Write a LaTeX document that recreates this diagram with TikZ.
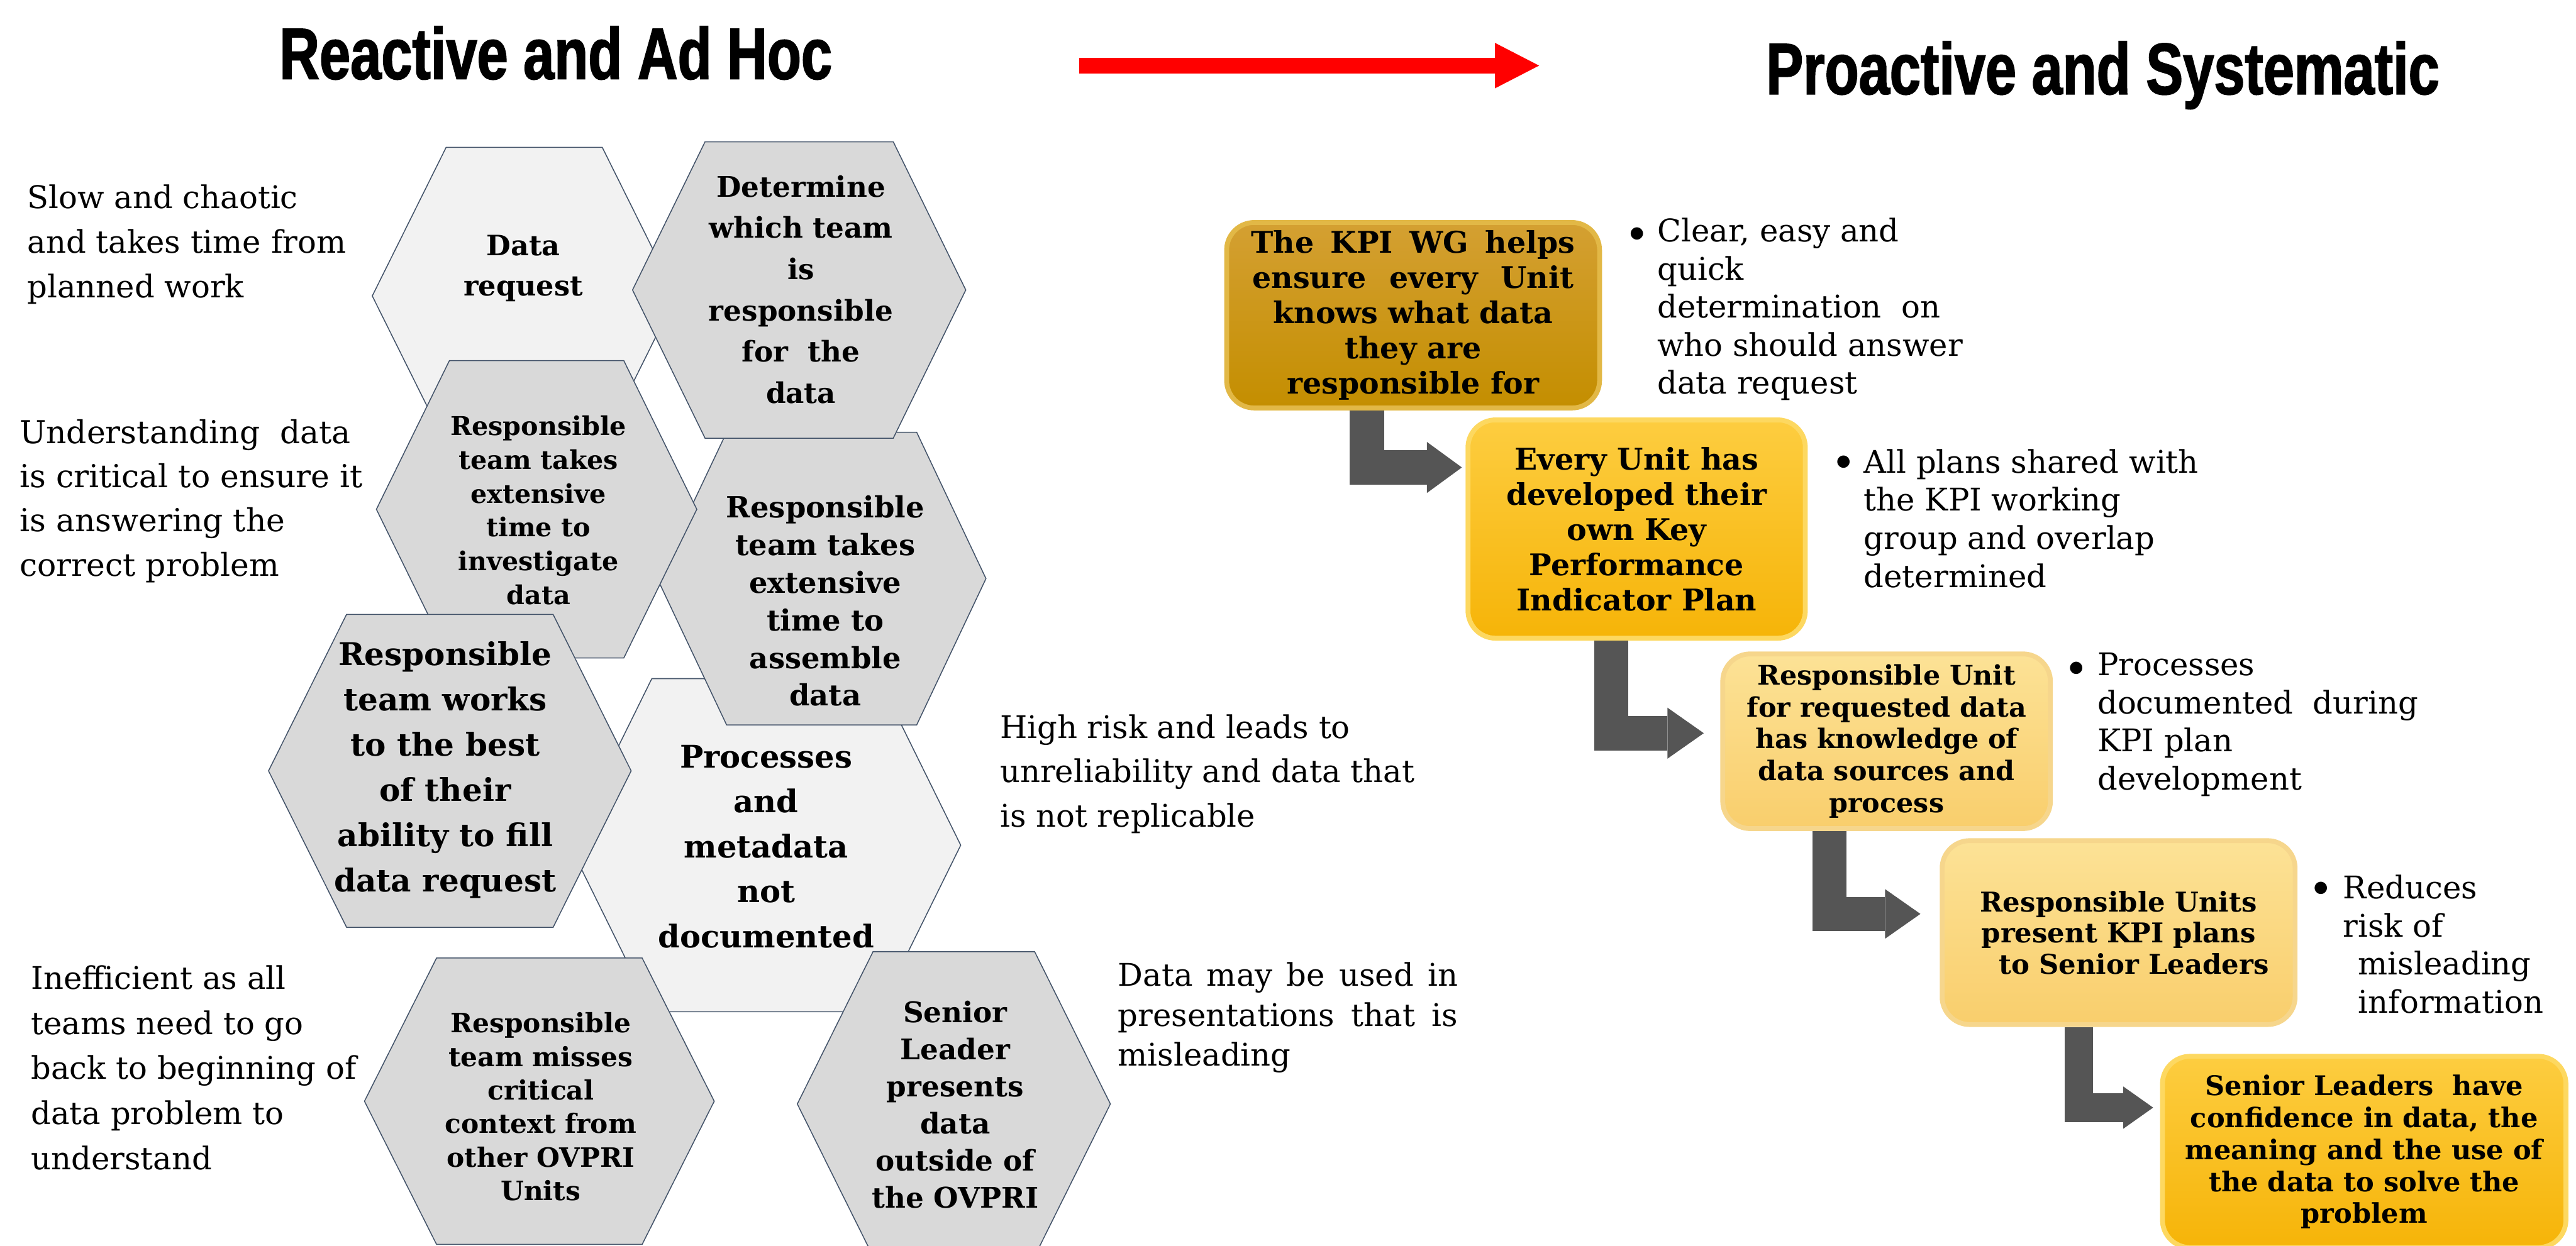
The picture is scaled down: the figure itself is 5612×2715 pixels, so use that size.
\documentclass[tikz,border=0pt]{standalone}
\usepackage{fontspec}
\setmainfont{DejaVu Serif}
\newfontfamily\titlefont[FakeStretch=0.765, FakeBold=1.6]{Liberation Sans}
\newfontfamily\symfont{DejaVu Sans}
\usetikzlibrary{arrows.meta,calc}

% font size and line spacing in pt
\newcommand\fsz[2]{\fontsize{#1pt}{#2pt}\selectfont}
% flat-topped hexagon: centre x, centre y, half width, half top edge, half height, style
\newcommand\hexshape[6]{%
  \filldraw[#6] ({#1-#3},#2) -- ({#1-#4},{#2-#5}) -- ({#1+#4},{#2-#5}) --
    ({#1+#3},#2) -- ({#1+#4},{#2+#5}) -- ({#1-#4},{#2+#5}) -- cycle;}
% list bullet
\newcommand\dotmark{\raisebox{0.07cm}{\symfont\fsz{10}{12}●}}

\definecolor{hexdark}{RGB}{217,217,217}
\definecolor{hexlight}{RGB}{242,242,242}
\definecolor{hexline}{RGB}{68,84,106}
\definecolor{arrowgrey}{RGB}{85,85,85}
\definecolor{goldA}{RGB}{212,160,50}
\definecolor{goldAb}{RGB}{196,142,0}
\definecolor{goldArim}{RGB}{226,184,70}
\definecolor{goldB}{RGB}{253,205,64}
\definecolor{goldBb}{RGB}{246,180,8}
\definecolor{goldBrim}{RGB}{253,216,96}
\definecolor{goldC}{RGB}{252,226,150}
\definecolor{goldCb}{RGB}{249,206,108}
\definecolor{goldCrim}{RGB}{246,214,140}

\tikzset{
  hexd/.style={fill=hexdark, draw=hexline, line width=0.6pt},
  hexl/.style={fill=hexlight, draw=hexline, line width=0.6pt},
  hextext/.style={align=center, inner sep=0pt},
  sidetext/.style={align=left, inner sep=0pt, anchor=west},
  bulletmark/.style={inner sep=0pt, anchor=base west},
  kpibox/.style={rounded corners=0.6cm, line width=3pt, align=center, inner sep=0pt},
  elbow/.style={draw=arrowgrey, line join=miter, line cap=butt},
  titletext/.style={anchor=base west, inner sep=0pt, font=\titlefont\bfseries\fsz{45}{50}}
}

\begin{document}
\begin{tikzpicture}[x=0.01cm, y=-0.01cm]
\useasboundingbox (0,0) rectangle (5612,2715);
\fill[white] (0,0) rectangle (5612,2715);

% ---------- headings ----------
\node[titletext] (t1) at (608,172) {Reactive and Ad Hoc};
\node[titletext] (t2) at (3847,205) {Proactive and Systematic};
\coordinate (rs) at (2351,143);
\coordinate (re) at (3353,143);
\draw[draw=red, line width=0.35cm,
  -{Triangle[length=0.96cm, width=0.99cm, line width=0pt]}] (rs) -- (re);

% ---------- honeycomb of the reactive process ----------
\hexshape{1142}{645}{331}{170}{324}{hexl}
\hexshape{1667}{1842}{426}{247}{363}{hexl}
\hexshape{1790}{1261}{358}{207}{319}{hexd}
\hexshape{1741}{632}{363}{205}{323}{hexd}
\hexshape{1169}{1110}{349}{190}{324}{hexd}
\hexshape{980}{1680}{395}{225}{341}{hexd}
\hexshape{1175}{2400}{381}{224}{312}{hexd}
\hexshape{2078}{2406}{341}{176}{332}{hexd}

\node[hextext, font=\bfseries\fsz{17.36}{25.0}] (h1) at (1140,585) {Data\\request};
\node[hextext, font=\bfseries\fsz{17.64}{25.6}] (h2) at (1745,631)
  {Determine\\which team\\is\\responsible\\for~~the\\data};
\node[hextext, font=\bfseries\fsz{16.08}{20.9}] (h3) at (1173,1112)
  {Responsible\\team takes\\extensive\\time to\\investigate\\data};
\node[hextext, font=\bfseries\fsz{18.1}{23.3}] (h4) at (1798,1310)
  {Responsible\\team takes\\extensive\\time to\\assemble\\data};
\node[hextext, font=\bfseries\fsz{19.5}{28.0}] (h5) at (970,1678)
  {Responsible\\team works\\to the best\\of their\\ability to fill\\data request};
\node[hextext, font=\bfseries\fsz{19.35}{27.9}] (h6) at (1669,1845)
  {Processes\\and\\metadata\\not\\documented};
\node[hextext, font=\bfseries\fsz{16.5}{20.8}] (h7) at (1178,2412)
  {Responsible\\team misses\\critical\\context from\\other OVPRI\\Units};
\node[hextext, font=\bfseries\fsz{17.64}{23.0}] (h8) at (2081,2407)
  {Senior\\Leader\\presents\\data\\outside of\\the OVPRI};

% ---------- remarks on the reactive process ----------
\node[sidetext, font=\fsz{19.35}{27.6}] (l1) at (59,533)
  {Slow and chaotic\\and takes time from\\planned work};
\node[sidetext, font=\fsz{19.6}{27.3}] (l2) at (42,1092)
  {Understanding~~data\\is critical to ensure it\\is answering the\\correct problem};
\node[sidetext, font=\fsz{19.35}{27.9}] (l3) at (67,2327)
  {Inefficient as all\\teams need to go\\back to beginning of\\data problem to\\understand};
\node[sidetext, font=\fsz{19.35}{27.6}] (m1) at (2178,1687)
  {High risk and leads to\\unreliability and data that\\is not replicable};
\node[sidetext, font=\fsz{19.35}{24.75}] (m2) at (2435,2218)
  {\makebox[7.4cm][s]{Data may be used in}\\\makebox[7.4cm][s]{presentations that is}\\misleading};

% ---------- systematic process steps ----------
\node[kpibox, draw=goldArim, top color=goldA, bottom color=goldAb,
  minimum width=8.12cm, minimum height=4.04cm, font=\bfseries\fsz{18.5}{21.9}]
  (b1) at (3078.5,687)
  {\makebox[7.05cm][s]{The KPI WG helps}\\\makebox[7.0cm][s]{ensure every Unit}\\knows what data\\they are\\responsible for};
\node[kpibox, draw=goldBrim, top color=goldB, bottom color=goldBb,
  minimum width=7.345cm, minimum height=4.755cm, font=\bfseries\fsz{18.5}{21.8}]
  (b2) at (3565.5,1153)
  {Every Unit has\\developed their\\own Key\\Performance\\Indicator Plan};
\node[kpibox, draw=goldCrim, top color=goldC, bottom color=goldCb,
  minimum width=7.135cm, minimum height=3.805cm, font=\bfseries\fsz{16.7}{19.8}]
  (b3) at (4110,1615.5)
  {Responsible Unit\\for requested data\\has knowledge of\\data sources and\\process};
\node[kpibox, draw=goldCrim, top color=goldC, bottom color=goldCb,
  minimum width=7.685cm, minimum height=4.005cm, font=\bfseries\fsz{16.9}{19.3}]
  (b4) at (4615.5,2032.5)
  {Responsible Units\\present KPI plans\\\hspace*{0.66cm}to Senior Leaders};
\node[kpibox, draw=goldBrim, top color=goldB, bottom color=goldBb,
  minimum width=8.785cm, minimum height=4.165cm, font=\bfseries\fsz{16.8}{19.8}]
  (b5) at (5150.5,2510.5)
  {Senior Leaders~~have\\confidence in data, the\\meaning and the use of\\the data to solve the\\problem};

% ---------- elbow connectors between steps ----------
\draw[elbow, line width=0.75cm, shorten >=0.08cm,
  -{Triangle[length=0.76cm, width=1.11cm, line width=0pt]}]
  ($(b1.south west)!0.378!(b1.south east)$) |- ($(b2.north west)!0.224!(b2.south west)$);
\draw[elbow, line width=0.75cm, shorten >=0.36cm,
  -{Triangle[length=0.79cm, width=1.11cm, line width=0pt]}]
  ($(b2.south west)!0.426!(b2.south east)$) |- ($(b3.north west)!0.455!(b3.south west)$);
\draw[elbow, line width=0.74cm, shorten >=0.42cm,
  -{Triangle[length=0.77cm, width=1.08cm, line width=0pt]}]
  ($(b3.south west)!0.329!(b3.south east)$) |- ($(b4.north west)!0.401!(b4.south west)$);
\draw[elbow, line width=0.62cm, shorten >=0.15cm,
  -{Triangle[length=0.65cm, width=0.92cm, line width=0pt]}]
  ($(b4.south west)!0.389!(b4.south east)$) |- ($(b5.north west)!0.274!(b5.south west)$);

% ---------- outcomes of each step ----------
\node[bulletmark] (d1) at (3550,525) {\dotmark};
\node[sidetext, font=\fsz{19.35}{23.6}] (r1) at (3610,674)
  {Clear, easy and\\quick\\determination~~on\\who should answer\\data request};
\node[bulletmark] (d2) at (4000,1023) {\dotmark};
\node[sidetext, font=\fsz{19.35}{23.6}] (r2) at (4060,1130)
  {All plans shared with\\the KPI working\\group and overlap\\determined};
\node[bulletmark] (d3) at (4507,1473) {\dotmark};
\node[sidetext, font=\fsz{19.35}{23.6}] (r3) at (4569,1579)
  {Processes\\documented~~during\\KPI plan\\development};
\node[bulletmark] (d4) at (5040,1952) {\dotmark};
\node[sidetext, font=\fsz{19.35}{23.6}] (r4) at (5104,2058)
  {Reduces\\risk of\\\hspace*{0.33cm}misleading\\\hspace*{0.33cm}information};
\end{tikzpicture}
\end{document}
